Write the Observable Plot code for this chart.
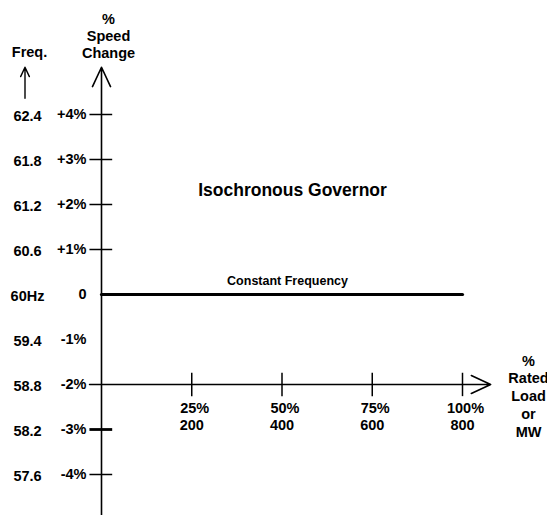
<!DOCTYPE html>
<html>
<head>
<meta charset="utf-8">
<script src="https://cdn.jsdelivr.net/npm/d3@7"></script>
<script src="https://cdn.jsdelivr.net/npm/@observablehq/plot@0.6"></script>
<style>
  html, body { margin: 0; padding: 0; background: #fff; }
  #chart svg { display: block; }
</style>
</head>
<body>
<div id="chart"></div>
<script>
// ---- data ----
const speedTicks = [4, 3, 2, 1, 0, -1, -2, -3, -4];
const speedLabels = ["+4%", "+3%", "+2%", "+1%", "0", "-1%", "-2%", "-3%", "-4%"];
const freqLabels = ["62.4", "61.8", "61.2", "60.6", "60Hz", "59.4", "58.8", "58.2", "57.6"];
const markedSpeedTicks = [4, 3, 2, 1, -4];
const heavySpeedTicks = [-3];
const loadTicks = [25, 50, 75, 100];
const loadPctLabels = ["25%", "50%", "75%", "100%"];
const mwLabels = ["200", "400", "600", "800"];
const constantLoad = [0, 100];
const constantSpeed = 0;
const loadAxisSpeed = -2;
// axis extents (data units)
const speedAxisExtent = [-4.92, 5.05];
const loadAxisExtent = [-3.3, 107.8];
const freqArrowExtent = [4.36, 5.05];

const speedRows = speedTicks.map((v, i) => ({v, pct: speedLabels[i], freq: freqLabels[i]}));
const loadRows = loadTicks.map((v, i) => ({v, pct: loadPctLabels[i], mw: mwLabels[i]}));

const font = "'Liberation Sans', Arial, Helvetica, sans-serif";
const txt = {fontWeight: "bold", fill: "#000"};
const free = {frameAnchor: "top-left", textAnchor: "middle", lineAnchor: "middle"};

const chart = Plot.plot({
  width: 547,
  height: 515,
  margin: 0,
  style: {background: "#fff", fontFamily: font},
  x: {domain: [0, 100], range: [101, 462], axis: null},
  y: {domain: [-4, 4], range: [474, 114], axis: null},
  marks: [
    // vertical axis with arrow
    Plot.arrow([0], {x1: 0, x2: 0, y1: speedAxisExtent[0], y2: speedAxisExtent[1],
      stroke: "#000", strokeWidth: 1.6, headLength: 20, headAngle: 50}),
    // horizontal (load) axis with arrow
    Plot.arrow([0], {x1: loadAxisExtent[0], x2: loadAxisExtent[1], y1: loadAxisSpeed, y2: loadAxisSpeed,
      stroke: "#000", strokeWidth: 1.6, headLength: 20, headAngle: 50}),
    // freq arrow
    Plot.arrow([0], {x1: 0, x2: 0, y1: freqArrowExtent[0], y2: freqArrowExtent[1], dx: -76.5,
      stroke: "#000", strokeWidth: 1.4, headLength: 20, headAngle: 50}),
    // speed ticks
    Plot.ruleY(markedSpeedTicks, {y: d => d, x1: -3.2, x2: 3.1, stroke: "#000", strokeWidth: 1.5}),
    Plot.ruleY(heavySpeedTicks, {y: d => d, x1: -3.2, x2: 3.1, stroke: "#000", strokeWidth: 2.8}),
    // load ticks
    Plot.ruleX(loadTicks, {x: d => d, y1: loadAxisSpeed + 0.25, y2: loadAxisSpeed - 0.27, stroke: "#000", strokeWidth: 1.5}),
    // constant frequency line
    Plot.line(constantLoad.map(x => ({x, y: constantSpeed})), {x: "x", y: "y", stroke: "#000", strokeWidth: 3.2}),
    // speed labels
    Plot.text(speedRows, {x: 0, y: "v", text: "pct", dx: -15, textAnchor: "end", fontSize: 14.5, ...txt}),
    Plot.text(speedRows, {x: 0, y: "v", text: "freq", dx: -74, dy: 2, textAnchor: "middle", fontSize: 14.5, ...txt}),
    // load labels
    Plot.text(loadRows, {x: "v", y: loadAxisSpeed, text: "pct", dx: 3, dy: 24, fontSize: 14.5, ...txt}),
    Plot.text(loadRows, {x: "v", y: loadAxisSpeed, text: "mw", dy: 41, fontSize: 14.5, ...txt}),
    // axis titles
    Plot.text(["Freq."], {...free, dx: 29, dy: 52, fontSize: 14.5, ...txt}),
    Plot.text(["%\nSpeed\nChange"], {...free, dx: 108, dy: 35, lineHeight: 1.2, fontSize: 14.5, ...txt}),
    Plot.text(["%\nRated\nLoad\nor\nMW"], {...free, dx: 528, dy: 395, lineHeight: 1.22, fontSize: 14.5, ...txt}),
    // chart annotations
    Plot.text(["Isochronous Governor"], {...free, dx: 292, dy: 190, fontSize: 17.5, ...txt}),
    Plot.text(["Constant Frequency"], {...free, dx: 287, dy: 280, fontSize: 12.5, ...txt})
  ]
});
document.getElementById("chart").appendChild(chart);
</script>
</body>
</html>
